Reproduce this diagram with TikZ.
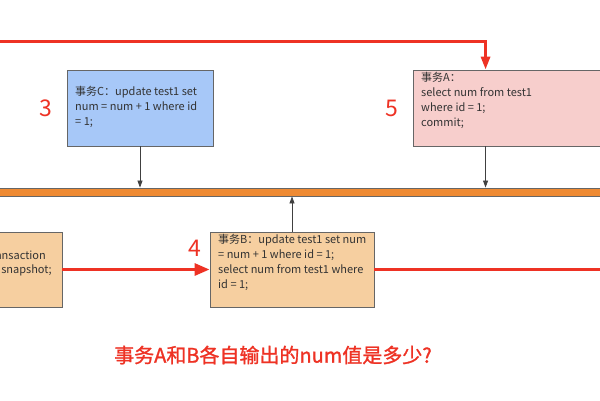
\documentclass[tikz,border=0pt]{standalone}
\usepackage{fontspec}
\setmainfont{Noto Sans CJK SC}
\newfontfamily\titlefont[FakeBold=1.2]{Noto Sans CJK SC}
\usetikzlibrary{arrows.meta}
\definecolor{redline}{HTML}{EE3224}
\definecolor{boxgray}{HTML}{666666}
\definecolor{cblue}{HTML}{A7C8F8}
\definecolor{apink}{HTML}{F7CECC}
\definecolor{bpeach}{HTML}{F6CFA0}
\definecolor{barorange}{HTML}{EE8A33}
\definecolor{txt}{HTML}{333333}
\tikzset{
  box/.style={draw=boxgray, line width=0.9pt, rectangle, inner sep=0pt},
  boxtext/.style={anchor=north west, align=left, inner sep=0pt, text=txt,
    font=\fontsize{11}{15}\selectfont},
  linetext/.style={inner sep=0pt, text=txt, font=\fontsize{11}{15}\selectfont},
  grayarrow/.style={draw=black!75, line width=0.8pt, -{Triangle[length=7pt,width=5pt]}},
  redarrow/.style={draw=redline, line width=3pt},
  stepnum/.style={text=redline, font=\fontsize{23}{23}\selectfont, inner sep=0pt}
}
\begin{document}
\begin{tikzpicture}[x=1pt,y=-1pt]
\useasboundingbox (0,0) rectangle (600,400);
\clip (0,0) rectangle (600,400);
\fill[white] (0,0) rectangle (600,400);

% boxes
\node[box, fill=cblue, minimum width=146pt, minimum height=76pt] (C) at (140,108) {};
\node[box, fill=apink, minimum width=227pt, minimum height=76pt] (A) at (526.5,108) {};
\node[box, fill=bpeach, minimum width=164pt, minimum height=75pt] (B) at (292,269.5) {};
\node[box, fill=bpeach, minimum width=162pt, minimum height=75pt] (L) at (-19,269.5) {};
\node[box, fill=barorange, minimum width=640pt, minimum height=8pt] (bar) at (300,192) {};

% texts
\node[boxtext] (Ct) at (75,86.5) {事务C：update test1 set\\num = num + 1 where id\\= 1;};
\node[boxtext] (At) at (421,72.5) {事务A：\\select num from test1\\where id = 1;\\commit;};
\node[boxtext] (Bt) at (218,234.5) {事务B：update test1 set num\\= num + 1 where id = 1;\\select num from test1 where\\id = 1;};
\node[linetext, anchor=east] (Lt1) at (46,255) {start transaction};
\node[linetext, anchor=east] (Lt2) at (52,270) {with consistent snapshot;};

% step numbers
\node[stepnum] (n3) at (46,108.5) {3};
\node[stepnum] (n5) at (392,108.5) {5};
\node[stepnum] (n4) at (195,248) {4};

% gray arrows
\draw[grayarrow] (C.south) -- (C.south |- bar.north);
\draw[grayarrow] ([xshift=73pt]A.south west) -- ([xshift=73pt]A.south west |- bar.north);
\draw[grayarrow] (B.north) -- (B.north |- bar.south);

% red arrows
\coordinate (tstart) at (-10,41);
\draw[redarrow, -{Triangle[length=13pt,width=9pt]}] (tstart) -| ([xshift=73pt]A.north west);
\draw[redarrow, -{Triangle[length=15pt,width=12pt]}] (L.east) -- (B.west);
\coordinate (rend) at (610,269.5);
\draw[redarrow] (B.east) -- (rend);

% title
\node[text=redline, font=\titlefont\fontsize{20}{20}\selectfont, inner sep=0pt] (title) at (273,355) {事务A和B各自输出的num值是多少?};
\end{tikzpicture}
\end{document}
